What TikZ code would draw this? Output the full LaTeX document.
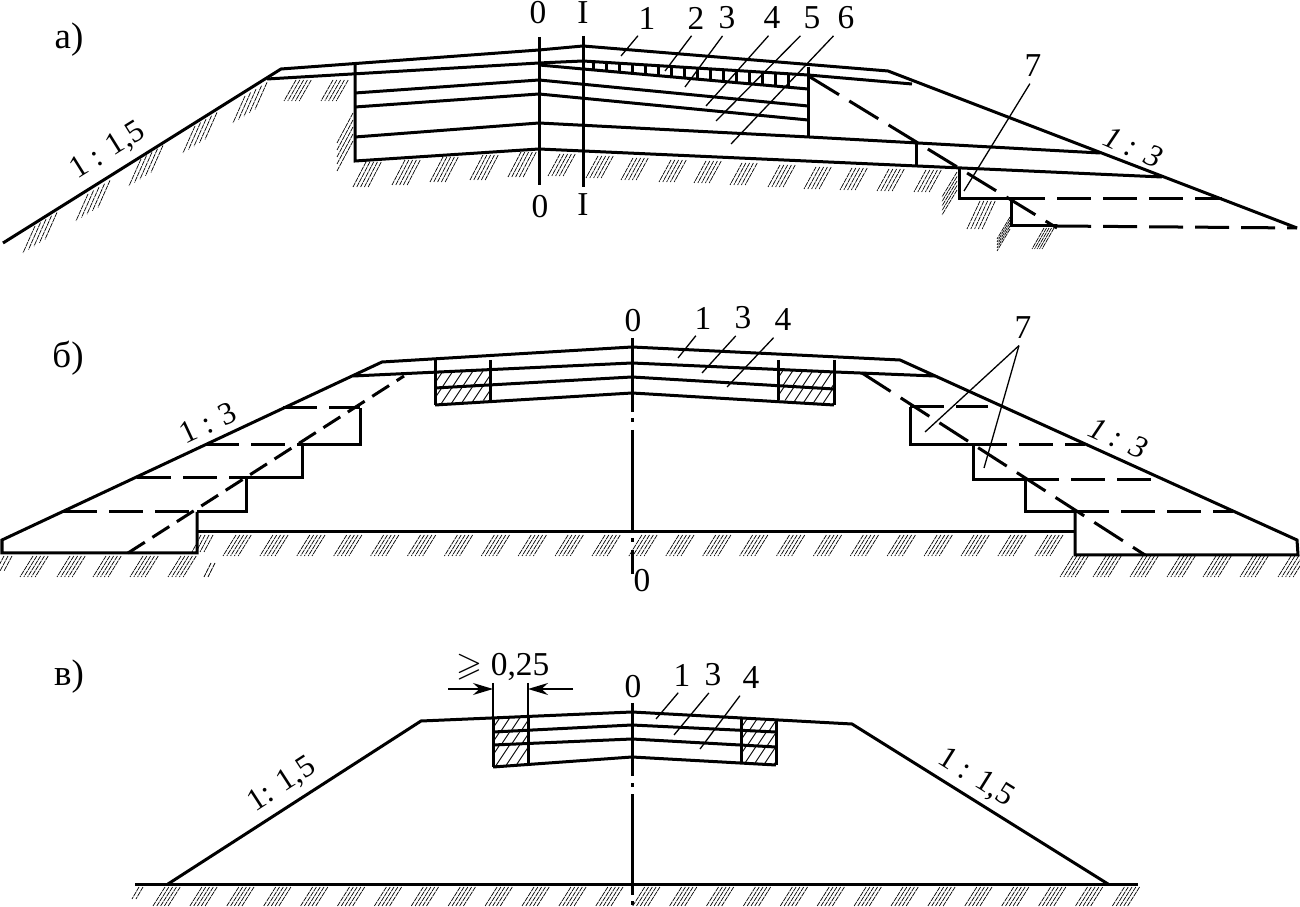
\documentclass[tikz,border=0pt]{standalone}
\usepackage{amssymb}
\usepackage{fontspec}
\setmainfont{Liberation Serif}
\usetikzlibrary{arrows.meta}
\tikzset{
  thick line/.style={line width=0.03cm},
  thin line/.style={line width=0.013cm},
  long dash/.style={thick line,dash pattern=on 0.34cm off 0.12cm},
  short dash/.style={thick line,dash pattern=on 0.2cm off 0.09cm},
  hatch line/.style={line width=0.007cm,dash pattern=on 0.05cm off 0.008cm},
  cell line/.style={line width=0.009cm},
  dim arrow/.style={thin line,-{Stealth[length=0.2cm,width=0.12cm]}},
  lab/.style={inner sep=0.06cm,font=\fontsize{9.5}{11}\selectfont},
  cap lab/.style={inner sep=0.06cm,font=\fontsize{10.5}{12}\selectfont},
  slope lab/.style={inner sep=0.06cm,font=\fontsize{9}{11}\selectfont},
}
% group of five ground strokes: start, shift between strokes, stroke
\newcommand{\hatchgroup}[6]{\foreach \k in {0,...,4} {\draw [hatch line] ({#1+\k*#3},{#2+\k*#4}) -- ++(#5,#6);}}
% hatched cell of a shoulder strip, clipped to its four corners
\newcommand{\hatchcell}[8]{\begin{scope}\clip (#1,#2) -- (#3,#4) -- (#5,#6) -- (#7,#8) -- cycle;
  \foreach \k in {0,10,...,110} {\draw [cell line] ({#1+\k},{#2-5}) -- ++(-40,60);}\end{scope}}
\begin{document}
\begin{tikzpicture}[x=0.01cm,y=-0.01cm]
  \useasboundingbox (0,0) rectangle (1300,907);

  % Drawing section a: surface
  \draw [thick line] (3,243) -- (281,69) -- (539,50) -- (583,46) -- (888,71) -- (1297,228);
  \draw [thick line] (267,79) -- (539,63) -- (583,61) -- (808,75) -- (912,84);
  \draw [thick line] (539,65) -- (583,69) -- (808,89);

  % Drawing section a: layers
  \draw [thick line] (355,93) -- (539,80) -- (808,106);
  \draw [thick line] (355,107) -- (539,94) -- (808,120);
  \draw [thick line] (355,137) -- (539,123) -- (809,137) -- (1100,153);
  \draw [thick line] (355,65) -- (355,161) -- (539,149) -- (1162,177);
  \draw [thick line] (808,67) -- (808,137);
  \draw [thick line] (916,142) -- (916,166);

  % Drawing section a: ticks of course 2
  \foreach \x in {593,606,...,795} {
    \draw [thick line] (\x,{61+.0622*(\x-583)}) -- (\x,{69+.0889*(\x-583)});
  }

  % Drawing section a: benches
  \draw [thick line] (959,168) -- (959,199) -- (1011,199) -- (1011,226) -- (1057,226);
  \draw [long dash] (1011,199) -- (1222,199);
  \draw [long dash] (1057,226) -- (1297,228);
  \draw [long dash] (810,77) -- (1057,228);

  % Drawing section a: axes
  \draw [thick line] (539,37) -- (539,185);
  \draw [thick line] (583,36) -- (583,187);

  % Drawing section a: ground
  \foreach \x/\y in {35/226,88/194,141/159,195/126,245/96} {
    \hatchgroup{\x}{\y}{5.5}{-3.4}{-12}{27}
  }
  \foreach \x in {296,333} {
    \hatchgroup{\x}{80}{3.8}{0}{-12}{21}
  }
  \hatchgroup{353}{113}{0}{7}{-16}{30}
  \foreach \x/\y in {366/162,405/160,443/157,483/155,521/152} {
    \hatchgroup{\x}{\y}{3.8}{0}{-13}{25}
  }
  \foreach \x/\y in {560/154,598/156,633/158,671/160,706/161,742/163,780/165,816/167,852/168,889/169,926/170} {
    \hatchgroup{\x}{\y}{3.8}{0}{-12}{22}
  }
  \hatchgroup{957}{172}{0}{4.5}{-15}{25}
  \hatchgroup{980}{201}{3.8}{0}{-13}{28}
  \hatchgroup{1010}{217}{0}{3}{-13}{22}
  \hatchgroup{1044}{228}{2.5}{0}{-12}{21}

  % Marking section a
  \node [cap lab] (capa) at (69,40) {а)};
  \node [lab] (zerotopa) at (538,13) {0};
  \node [lab] (itopa) at (583,13) {I};
  \node [lab] (zerobota) at (540,207) {0};
  \node [lab] (ibota) at (583,205) {I};
  \node [slope lab,rotate=32] (slopelefta) at (108,151) {1 : 1,5};
  \node [slope lab,rotate=-24] (sloperighta) at (1133,147) {\itshape 1 : 3};
  \node [lab] (onea) at (647,18) {1};
  \node [lab] (twoa) at (696,18) {2};
  \node [lab] (threea) at (727,18) {3};
  \node [lab] (foura) at (772,18) {4};
  \node [lab] (fivea) at (812,18) {5};
  \node [lab] (sixa) at (846,18) {6};
  \node [lab] (sevena) at (1033,66) {7};
  \coordinate (onetipa) at (621,56);
  \coordinate (twotipa) at (665,71);
  \coordinate (threetipa) at (685,87);
  \coordinate (fourtipa) at (706,106);
  \coordinate (fivetipa) at (716,121);
  \coordinate (sixtipa) at (731,144);
  \coordinate (seventipa) at (964,191);
  \draw [thin line] (onea.243) -- (onetipa);
  \draw [thin line] (twoa.256) -- (twotipa);
  \draw [thin line] (threea.256) -- (threetipa);
  \draw [thin line] (foura.259) -- (fourtipa);
  \draw [thin line] (fivea.237) -- (fivetipa);
  \draw [thin line] (sixa.235) -- (sixtipa);
  \draw [thin line] (sevena.260) -- (seventipa);

  % Drawing section b: shoulder cells
  \hatchcell{435}{373}{490}{370}{490}{385}{435}{388}
  \hatchcell{435}{388}{490}{385}{490}{400}{435}{405}
  \hatchcell{778}{368}{834}{372}{834}{389}{778}{386}
  \hatchcell{778}{386}{834}{389}{834}{405}{778}{400}

  % Drawing section b: outline
  \draw [thick line] (197,512) -- (197,553) -- (2,553) -- (2,540) -- (382,362) -- (632,347) -- (900,360) -- (1297,540) -- (1298,555) -- (1075,555) -- (1075,512);
  \draw [thick line] (197,532) -- (1075,532);

  % Drawing section b: layers
  \draw [thick line] (353,376) -- (632,363) -- (835,372) -- (935,376);
  \draw [thick line] (435,388) -- (632,377) -- (834,389);
  \draw [thick line] (435,405) -- (632,393) -- (834,405);
  \foreach \x/\y in {435/405,490/400,778/400,834/405} {
    \draw [thick line] (\x,360) -- (\x,\y);
  }

  % Drawing section b: benches
  \draw [thick line] (197,512) -- (246,512) -- (246,478) -- (302,478) -- (302,445) -- (360,445) -- (360,408);
  \draw [long dash] (63,512) -- (197,512);
  \draw [long dash] (137,478) -- (246,478);
  \draw [long dash] (205,445) -- (302,445);
  \draw [long dash] (283,408) -- (360,408);
  \draw [short dash] (128,553) -- (404,376);
  \draw [thick line] (910,407) -- (910,445) -- (973,445) -- (973,480) -- (1025,480) -- (1025,512) -- (1075,512);
  \draw [long dash] (910,407) -- (988,407);
  \draw [long dash] (973,445) -- (1085,445);
  \draw [long dash] (1025,480) -- (1152,480);
  \draw [long dash] (1075,512) -- (1233,512);
  \draw [long dash] (862,373) -- (1145,555);

  % Drawing section b: axis
  \draw [thick line] (632,338) -- (632,412);
  \draw [thick line] (632,418) -- (632,422);
  \draw [thick line] (632,430) -- (632,532);
  \draw [thick line] (632,538) -- (632,542);
  \draw [thick line] (632,550) -- (632,574);

  % Drawing section b: ground
  \foreach \i in {0,...,22} {
    \hatchgroup{236+36.9*\i}{535}{3.8}{0}{-13}{21}
  }
  \foreach \x in {201,205,209,213} {
    \draw [hatch line] (\x,535) -- ++(-9,17);
  }
  \foreach \x in {33,70,106,143,181,1073,1106,1143,1180,1216,1253,1291} {
    \hatchgroup{\x}{556}{3.8}{0}{-13}{21}
  }
  \foreach \x in {4,8,12} {
    \draw [hatch line] (\x,556) -- ++(-8,15);
  }
  \foreach \x in {211,215} {
    \draw [hatch line] (\x,563) -- ++(-7,14);
  }

  % Marking section b
  \node [cap lab] (capb) at (68,358) {б)};
  \node [lab] (zerotopb) at (633,321) {0};
  \node [lab] (zerobotb) at (642,581) {0};
  \node [slope lab,rotate=25] (slopeleftb) at (208,423) {1 : 3};
  \node [slope lab,rotate=-24] (sloperightb) at (1118,438) {\itshape 1 : 3};
  \node [lab] (oneb) at (703,318) {1};
  \node [lab] (threeb) at (743,318) {3};
  \node [lab] (fourb) at (783,320) {4};
  \node [lab] (sevenb) at (1023,328) {7};
  \coordinate (onetipb) at (678,358);
  \coordinate (threetipb) at (702,373);
  \coordinate (fourtipb) at (727,387);
  \coordinate (seventipb) at (925,432);
  \coordinate (seventipc) at (984,468);
  \draw [thin line] (oneb.248) -- (onetipb);
  \draw [thin line] (threeb.248) -- (threetipb);
  \draw [thin line] (fourb.242) -- (fourtipb);
  \draw [thin line] (sevenb.257) -- (seventipb);
  \draw [thin line] (sevenb.257) -- (seventipc);

  % Drawing section c: shoulder cells
  \hatchcell{493}{718}{528}{717}{528}{730}{493}{732}
  \hatchcell{493}{732}{528}{730}{528}{743}{493}{745}
  \hatchcell{493}{745}{528}{743}{528}{763}{493}{767}
  \hatchcell{741}{718}{776}{720}{776}{732}{741}{730}
  \hatchcell{741}{730}{776}{732}{776}{747}{741}{744}
  \hatchcell{741}{744}{776}{747}{776}{765}{741}{762}

  % Drawing section c: outline and layers
  \draw [thick line] (168,884) -- (421,721) -- (632,712) -- (852,724) -- (1108,884);
  \draw [thick line] (135,884) -- (1138,884);
  \draw [thick line] (493,732) -- (632,725) -- (776,732);
  \draw [thick line] (493,745) -- (632,739) -- (776,747);
  \draw [thick line] (493,767) -- (632,757) -- (776,765);
  \draw [thick line] (493,718) -- (493,767);
  \draw [thick line] (528,717) -- (528,763);
  \draw [thick line] (741,718) -- (741,762);
  \draw [thick line] (776,720) -- (776,765);

  % Drawing section c: axis
  \draw [thick line] (632,703) -- (632,776);
  \draw [thick line] (632,783) -- (632,787);
  \draw [thick line] (632,794) -- (632,895);
  \draw [thick line] (632,901) -- (632,905);

  % Drawing section c: ground
  \foreach \i in {0,...,26} {
    \hatchgroup{165+36.9*\i}{887}{3.8}{0}{-12}{19}
  }
  \foreach \x in {139,143} {
    \draw [hatch line] (\x,887) -- ++(-7,12);
  }

  % Marking section c
  \node [cap lab] (capc) at (69,677) {в)};
  \node [lab] (zerotopc) at (633,687) {0};
  \node [slope lab,rotate=33] (slopeleftc) at (282,785) {1: 1,5};
  \node [slope lab,rotate=-32] (sloperightc) at (976,778) {1 : 1,5};
  \node [lab] (onec) at (682,675) {1};
  \node [lab] (threec) at (713,675) {3};
  \node [lab] (fourc) at (751,678) {4};
  \coordinate (onetipc) at (656,719);
  \coordinate (threetipc) at (674,735);
  \coordinate (fourtipc) at (700,749);
  \draw [thin line] (onec.258) -- (onetipc);
  \draw [thin line] (threec.257) -- (threetipc);
  \draw [thin line] (fourc.238) -- (fourtipc);

  % Marking width of the shoulder
  \node [lab] (widthc) at (503,667) {$\geqslant$ 0,25};
  \coordinate (extlefttop) at (493,683);
  \coordinate (extleftbot) at (493,718);
  \coordinate (extrighttop) at (528,683);
  \coordinate (extrightbot) at (528,717);
  \coordinate (dimleftfree) at (448,689);
  \coordinate (dimleft) at (493,689);
  \coordinate (dimrightfree) at (573,689);
  \coordinate (dimright) at (528,689);
  \draw [thin line] (extlefttop) -- (extleftbot);
  \draw [thin line] (extrighttop) -- (extrightbot);
  \draw [dim arrow] (dimleftfree) -- (dimleft);
  \draw [dim arrow] (dimrightfree) -- (dimright);
\end{tikzpicture}
\end{document}
